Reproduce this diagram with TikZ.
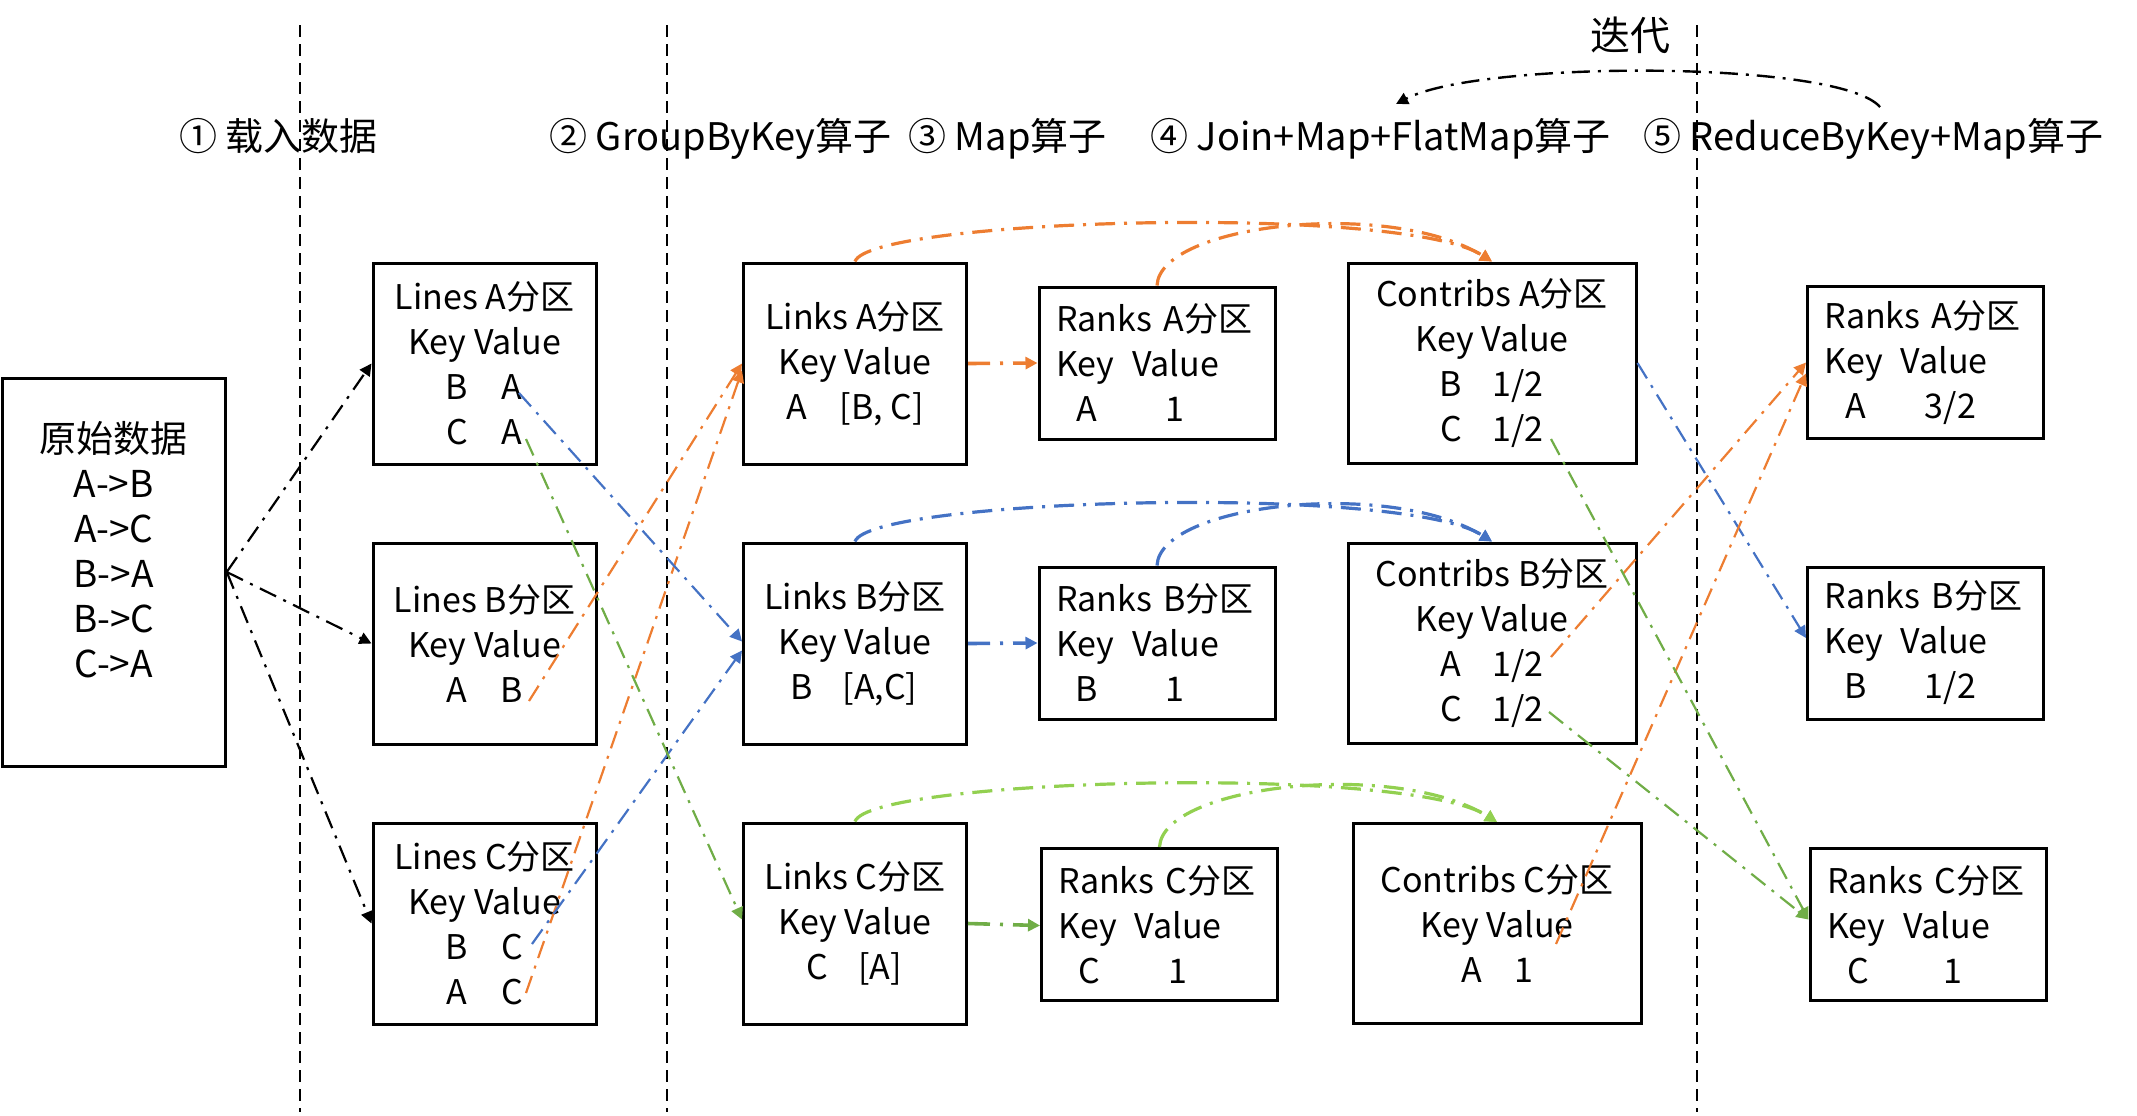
\documentclass[tikz,border=0pt]{standalone}
\usepackage{fontspec}
\setmainfont{Noto Sans CJK SC}
\usetikzlibrary{arrows.meta,calc}

\definecolor{cOrange}{HTML}{ED7D31}
\definecolor{cBlue}{HTML}{4472C4}
\definecolor{cGreen}{HTML}{70AD47}
\definecolor{cLime}{HTML}{92D050}

% key / value pair: key box of width #1, value box of width #2
\newcommand{\kvpair}[4]{\makebox[#1]{#3}\makebox[#2]{#4}}
% left-aligned rows of the Ranks boxes
\newcommand{\rankhead}{\makebox[38pt][l]{Key}Value}
\newcommand{\rankrow}[3]{\makebox[31pt]{#2}\makebox[#1]{#3}}

\tikzset{
  part/.style={draw, line width=1.5pt, inner sep=0pt, align=center,
    font=\fontsize{17}{22.5}\selectfont},
  linebox/.style={part, minimum width=111.5pt, minimum height=100.5pt},
  contribbox/.style={part, minimum width=144pt, minimum height=100pt},
  rawbox/.style={part, minimum width=111.5pt, minimum height=194pt,
    font=\fontsize{18.5}{22.5}\selectfont},
  rankbox/.style={part, minimum width=118pt, minimum height=76pt,
    text width=101pt, align=left, inner xsep=8.5pt},
  heading/.style={anchor=base west, inner sep=0pt,
    font=\fontsize{19}{24}\selectfont},
  divider/.style={line width=1.2pt, dash pattern=on 6pt off 3.5pt},
  tip/.style={-{Triangle[length=6pt,width=6pt]}},
  flow/.style={tip, line width=1.1pt,
    dash pattern=on 9pt off 4pt on 1.5pt off 4pt},
  arcflow/.style={tip, line width=1.6pt,
    dash pattern=on 10pt off 4.5pt on 1.5pt off 4.5pt},
  hop/.style={tip, line width=1.8pt,
    dash pattern=on 11pt off 5pt on 1.5pt off 5pt},
}

\begin{document}
\begin{tikzpicture}[x=0.5pt, y=-0.5pt]
\useasboundingbox (0,0) rectangle (2137,1115);

% stage separators
\draw[divider] (300,25) -- (300,1112);
\draw[divider] (667,25) -- (667,1112);
\draw[divider] (1697,25) -- (1697,1112);

% stage headings
\node[heading] (h1) at (179,150) {① 载入数据};
\node[heading] (h2) at (549,150) {② GroupByKey算子};
\node[heading] (h3) at (908,150) {③ Map算子};
\node[heading] (h4) at (1150,150) {④ Join+Map+FlatMap算子};
\node[heading] (h5) at (1643,150) {⑤ ReduceByKey+Map算子};

% iteration loop
\node[font=\fontsize{20}{24}\selectfont, inner sep=0pt] (iter) at (1630,35) {迭代};
\coordinate (iterFrom) at (1880,107);
\coordinate (iterTo) at (1396,104);
\draw[tip, line width=1.2pt, dash pattern=on 9pt off 4pt on 1.5pt off 4pt]
  (iterFrom) .. controls (1840,60) and (1480,60) .. (iterTo);

% raw input
\node[rawbox] (raw) at (113.75,572)
  {原始数据\\A->B\\A->C\\B->A\\B->C\\C->A\\\mbox{}};

% Lines partitions
\node[linebox] (linesA) at (484.5,363.5)
  {Lines A分区\\Key Value\\\kvpair{27.5pt}{27.5pt}{B}{A}\\\kvpair{27.5pt}{27.5pt}{C}{A}};
\node[linebox] (linesB) at (484.5,643.5)
  {Lines B分区\\Key Value\\\kvpair{27.5pt}{27.5pt}{A}{B}};
\node[linebox] (linesC) at (484.5,923.5)
  {Lines C分区\\Key Value\\\kvpair{27.5pt}{27.5pt}{B}{C}\\\kvpair{27.5pt}{27.5pt}{A}{C}};

% Links partitions
\node[linebox] (linksA) at (855,363.5)
  {Links A分区\\Key Value\\\kvpair{27pt}{58pt}{A}{[B, C]}};
\node[linebox] (linksB) at (855,643.5)
  {Links B分区\\Key Value\\\kvpair{25pt}{53pt}{B}{[A,C]}};
\node[linebox] (linksC) at (855,923.5)
  {Links C分区\\Key Value\\\kvpair{25pt}{38pt}{C}{[A]}};

% Ranks partitions (initial)
\node[rankbox] (ranksA) at (1157,363)
  {Ranks A分区\\\rankhead\\\rankrow{57pt}{A}{1}};
\node[rankbox] (ranksB) at (1157,643)
  {Ranks B分区\\\rankhead\\\rankrow{57pt}{B}{1}};
\node[rankbox] (ranksC) at (1159.5,924.5)
  {Ranks C分区\\\rankhead\\\rankrow{57pt}{C}{1}};

% Contribs partitions
\node[contribbox] (contribsA) at (1492,363)
  {Contribs A分区\\Key Value\\\kvpair{26pt}{41pt}{B}{1/2}\\\kvpair{26pt}{41pt}{C}{1/2}};
\node[contribbox] (contribsB) at (1492,643)
  {Contribs B分区\\Key Value\\\kvpair{26pt}{41pt}{A}{1/2}\\\kvpair{26pt}{41pt}{C}{1/2}};
\node[contribbox] (contribsC) at (1497,923.5)
  {Contribs C分区\\Key Value\\\kvpair{27pt}{25pt}{A}{1}};

% Ranks partitions (updated)
\node[rankbox] (newA) at (1925.5,362.5)
  {Ranks A分区\\\rankhead\\\rankrow{64pt}{A}{3/2}};
\node[rankbox] (newB) at (1925.5,643)
  {Ranks B分区\\\rankhead\\\rankrow{64pt}{B}{1/2}};
\node[rankbox] (newC) at (1928,924.5)
  {Ranks C分区\\\rankhead\\\rankrow{64pt}{C}{1}};

% record positions inside the partitions
\coordinate (recAB) at (529,701);   % Lines B: A B
\coordinate (recAC) at (526,993);   % Lines C: A C
\coordinate (recBA) at (519,393);   % Lines A: B A
\coordinate (recBC) at (532,944);   % Lines C: B C
\coordinate (recCA) at (526,439);   % Lines A: C A
\coordinate (conAC) at (1551,439);  % Contribs A: C 1/2
\coordinate (conBA) at (1551,657);  % Contribs B: A 1/2
\coordinate (conBC) at (1549,712);  % Contribs B: C 1/2
\coordinate (conCA) at (1556,944);  % Contribs C: A 1

% loading
\draw[flow, black] (raw.east) -- (linesA.west);
\draw[flow, black] (raw.east) -- (linesB.west);
\draw[flow, black] (raw.east) -- (linesC.west);

% groupByKey shuffle
\draw[flow, cOrange] (recAB) -- (linksA.west);
\draw[flow, cOrange] (recAC) -- ([yshift=-3.5pt]linksA.west);
\draw[flow, cBlue] (recBA) -- ([yshift=1pt]linksB.west);
\draw[flow, cBlue] (recBC) -- ([yshift=-3.5pt]linksB.west);
\draw[flow, cGreen] (recCA) -- ([yshift=2pt]linksC.west);

% map
\draw[hop, cOrange] (linksA.east) -- (ranksA.west);
\draw[hop, cBlue] (linksB.east) -- (ranksB.west);
\draw[hop, cGreen] (linksC.east) -- ([yshift=-0.5pt]ranksC.west);

% join + map + flatMap
\draw[arcflow, cOrange] (linksA.north) .. controls +(15,-43) and +(-90,-58) .. (contribsA.north);
\draw[arcflow, cOrange] (ranksA.north) .. controls +(3,-62) and +(-102,-63) .. (contribsA.north);
\draw[arcflow, cBlue] (linksB.north) .. controls +(15,-43) and +(-90,-58) .. (contribsB.north);
\draw[arcflow, cBlue] (ranksB.north) .. controls +(3,-62) and +(-102,-63) .. (contribsB.north);
\draw[arcflow, cLime] (linksC.north) .. controls +(15,-43) and +(-90,-58) .. (contribsC.north);
\draw[arcflow, cLime] (ranksC.north) .. controls +(3,-62) and +(-102,-63) .. (contribsC.north);

% reduceByKey shuffle
\draw[flow, cBlue] (contribsA.east) -- ([yshift=2.5pt]newB.west);
\draw[flow, cOrange] (conBA) -- (newA.west);
\draw[flow, cOrange] (conCA) -- ([yshift=-5.5pt]newA.west);
\draw[flow, cGreen] (conAC) -- ([yshift=2.5pt]newC.west);
\draw[flow, cGreen] (conBC) -- ([yshift=2.5pt]newC.west);

\end{tikzpicture}
\end{document}
